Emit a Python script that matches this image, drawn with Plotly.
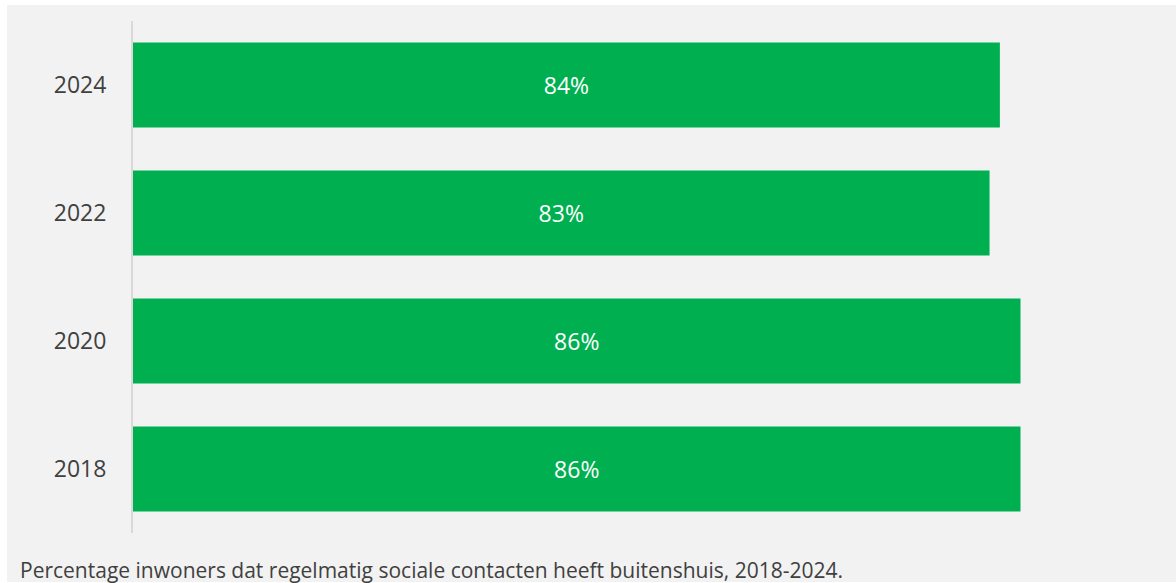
import plotly.graph_objects as go

years = ["2018", "2020", "2022", "2024"]
values = [86, 86, 83, 84]
caption = "Percentage inwoners dat regelmatig sociale contacten heeft buitenshuis, 2018-2024."

W, H = 1176, 583
L, R, T, B = 133, 11, 21, 50
pw, ph = W - L - R, H - T - B

def px_x(p):
    return (p - L) / pw

def px_y(p):
    return (H - B - p) / ph

FONT = "Open Sans"
TXT = "#404040"

fig = go.Figure(go.Bar(
    y=years, x=values, orientation="h",
    marker=dict(color="#00b050", line=dict(width=0)),
    text=[f"{v}%" for v in values], textposition="inside",
    insidetextanchor="middle",
    textfont=dict(color="white", size=23, family=FONT),
    hoverinfo="skip",
))

fig.update_layout(
    width=W, height=H,
    margin=dict(l=L, r=R, t=T, b=B),
    paper_bgcolor="white", plot_bgcolor="rgba(0,0,0,0)",
    bargap=0.336, showlegend=False,
    font=dict(family=FONT, color=TXT),
    xaxis=dict(range=[0, 100], visible=False, fixedrange=True),
    yaxis=dict(type="category", categoryorder="array", categoryarray=years,
               showline=True, linecolor="#d9d9d9", linewidth=2,
               showgrid=False, zeroline=False, ticks="",
               ticklabelstandoff=20,
               tickfont=dict(size=23, color=TXT, family=FONT)),
    shapes=[dict(type="rect", xref="paper", yref="paper", layer="below",
                 x0=px_x(7), x1=px_x(W), y0=px_y(582), y1=px_y(5),
                 fillcolor="#f2f2f2", line=dict(width=0))],
    annotations=[dict(text=caption, xref="paper", yref="paper",
                      x=px_x(18), y=px_y(570), xanchor="left", yanchor="middle",
                      showarrow=False, font=dict(size=21, color=TXT, family=FONT))],
)

fig.write_html(
    "out.html",
    config={"displayModeBar": False},
    post_script="document.body.style.margin='0';document.body.style.overflow='hidden';",
)
